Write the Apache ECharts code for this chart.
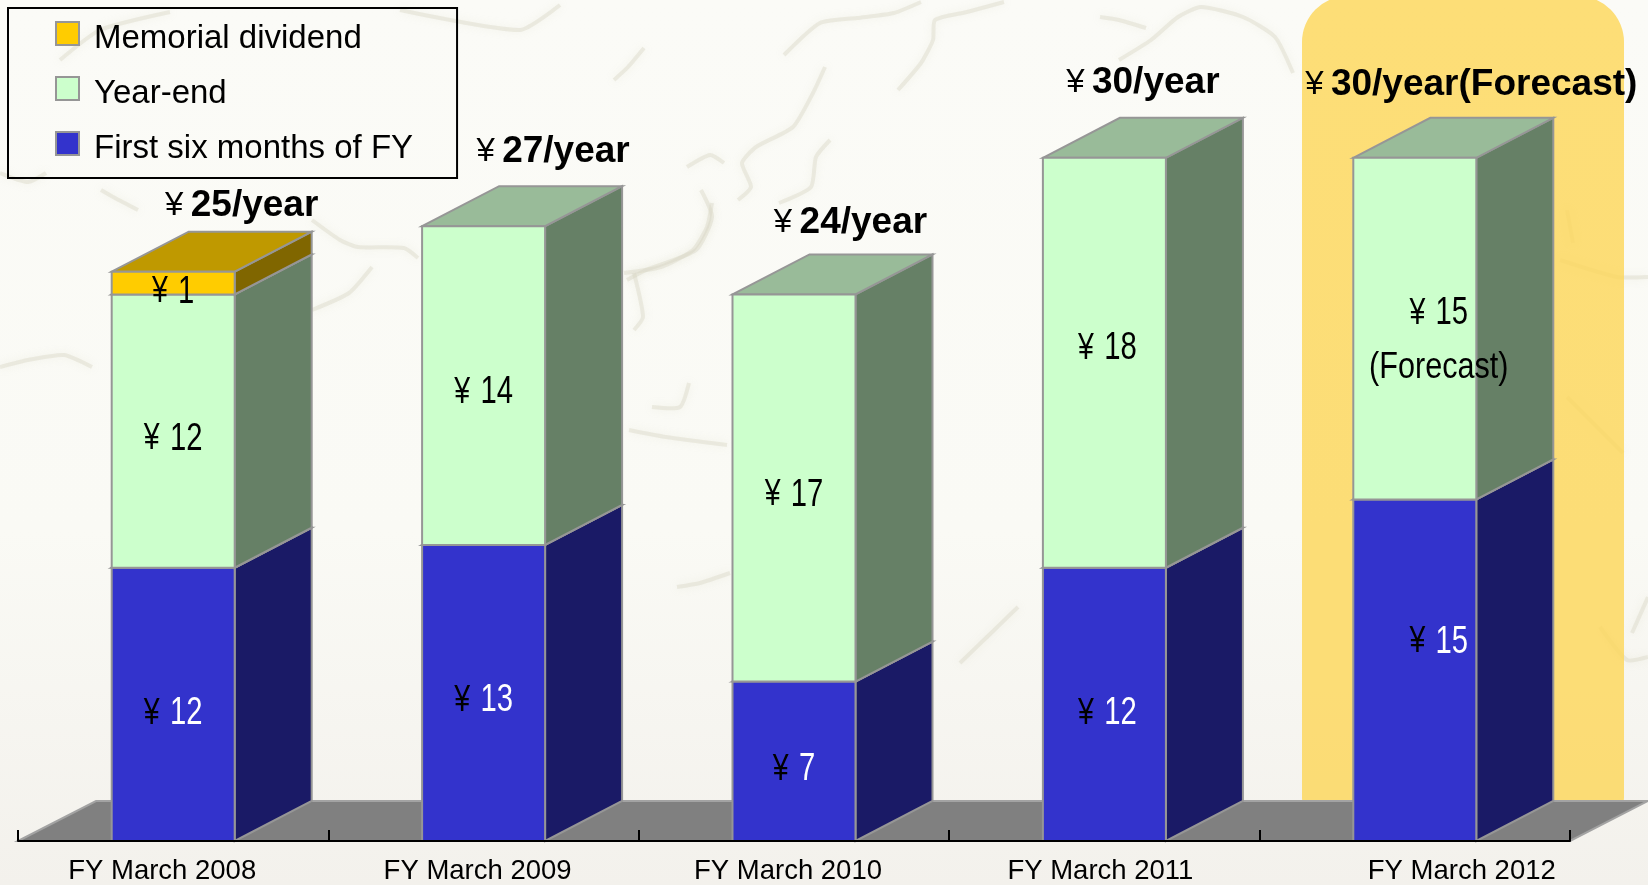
<!DOCTYPE html>
<html>
<head>
<meta charset="utf-8">
<style>
  html, body { margin: 0; padding: 0; background: #f8f7f2; }
  #chart { width: 1648px; height: 885px; }
</style>
<script src="https://cdn.jsdelivr.net/npm/echarts@6/dist/echarts.min.js"></script>
</head>
<body>
<div id="chart"></div>
<script>
const categories = ['FY March 2008', 'FY March 2009', 'FY March 2010', 'FY March 2011', 'FY March 2012'];
const firstSix = [12, 13, 7, 12, 15];
const yearEnd = [12, 14, 17, 18, 15];
const memorial = [1, 0, 0, 0, 0];
const totalLabels = ['25/year', '27/year', '24/year', '30/year', '30/year(Forecast)'];
const yearEndNotes = ['', '', '', '', '(Forecast)'];

// layout
const FONT = '"Liberation Sans", Arial, sans-serif';
const BAR_W = 123, DX = 77, DY = 40, FLOOR_DX = 78;
const EDGE = '#969696';
const labelShiftX = [-22, -12, -12, -8, 94];      // padding used to move the axis labels off band centre
const totalShiftX = [30, 31, 18, 0, 18];
const totalShiftY = [-26, -34, -32, -35, -33];
const valueShiftX = [0, 0, 0, 3, 24];
const firstSixShiftY = [9, 8, 8, 9, -28];
const yearEndShiftY = [8, 7, 7, -14, -15];

const COLORS = {
    first: { front: '#3333cc', side: '#1a1a66', top: '#2828a0' },
    year: { front: '#ccffcc', side: '#668066', top: '#99bb99' },
    memo: { front: '#ffcc00', side: '#806600', top: '#bf9900' }
};

// faint map strokes behind the chart
const mapStrokes = [
    [[784, 55], [820, 23], [857, 18], [894, 13], [921, 2]],
    [[898, 90], [921, 63], [933, 40], [935, 20], [967, 12], [1004, 2]],
    [[825, 67], [813, 93], [793, 127], [756, 147], [742, 163], [751, 187], [738, 200]],
    [[830, 140], [816, 157], [811, 187], [779, 203]],
    [[687, 167], [710, 155], [724, 163]],
    [[701, 190], [712, 217], [696, 250], [646, 270], [627, 280]],
    [[614, 80], [628, 67], [644, 48]],
    [[1119, 60], [1151, 40], [1178, 17], [1201, 7], [1243, 17], [1275, 37], [1293, 73]],
    [[1100, 17], [1119, 20], [1146, 28]],
    [[0, 367], [28, 360], [64, 355], [92, 367]],
    [[312, 220], [340, 240], [358, 247], [404, 248], [418, 258]],
    [[312, 310], [349, 293], [372, 267]],
    [[624, 273], [661, 267], [693, 250], [707, 227], [712, 203]],
    [[634, 273], [643, 317], [634, 330]],
    [[629, 430], [666, 437], [727, 445]],
    [[652, 407], [680, 407], [689, 383]],
    [[0, 173], [28, 182], [46, 173]],
    [[101, 190], [115, 198], [138, 210]],
    [[677, 587], [700, 583], [730, 573]],
    [[960, 663], [987, 637], [1018, 607]],
    [[1560, 260], [1617, 277], [1648, 277]],
    [[1567, 397], [1623, 453]],
    [[1567, 210], [1573, 243]],
    [[1600, 627], [1627, 660], [1648, 657]],
    [[1632, 633], [1648, 597]],
    [[60, 60], [100, 30], [170, 12]],
    [[400, 10], [520, 30], [560, 5]]
];

function stackBase(i, arrays) {
    let s = 0;
    arrays.forEach(function (a) { s += a[i]; });
    return s;
}

function blockItem(values, below, col, labelFn) {
    return function (params, api) {
        const i = api.value(0);
        const v = values[i];
        if (!v) return null;
        const base = stackBase(i, below);
        const bottom = api.coord([i, base]);
        const top = api.coord([i, base + v]);
        const x0 = bottom[0] - BAR_W / 2;
        const x1 = bottom[0] + BAR_W / 2;
        const edge = { stroke: EDGE, lineWidth: 2 };
        const children = [
            {
                type: 'polygon',
                shape: { points: [[x1, bottom[1]], [x1 + DX, bottom[1] - DY], [x1 + DX, top[1] - DY], [x1, top[1]]] },
                style: Object.assign({ fill: col.side }, edge)
            },
            {
                type: 'polygon',
                shape: { points: [[x0, top[1]], [x0 + DX, top[1] - DY], [x1 + DX, top[1] - DY], [x1, top[1]]] },
                style: Object.assign({ fill: col.top }, edge)
            },
            {
                type: 'rect',
                shape: { x: x0, y: top[1], width: BAR_W, height: bottom[1] - top[1] },
                style: Object.assign({ fill: col.front }, edge)
            }
        ];
        labelFn(i, v, bottom[0], (bottom[1] + top[1]) / 2).forEach(function (t) { children.push(t); });
        return { type: 'group', children: children };
    };
}

// the picture uses a condensed face, so squeeze the text sideways
function valueText(v, x, y, digitColor) {
    return {
        type: 'text',
        z2: 10,
        x: x,
        y: y,
        scaleX: 0.77,
        style: {
            text: '{y|¥} {d|' + v + '}',
            x: 0,
            y: 0,
            align: 'center',
            verticalAlign: 'middle',
            rich: {
                y: { fontFamily: FONT, fontSize: 37, fill: '#000', padding: [0, 10, 0, 0] },
                d: { fontFamily: FONT, fontSize: 38, fill: digitColor }
            }
        }
    };
}

function noteText(text, x, y) {
    return {
        type: 'text',
        z2: 10,
        x: x,
        y: y,
        scaleX: 0.85,
        style: { text: text, x: 0, y: 0, align: 'center', verticalAlign: 'middle', fill: '#000', font: '36px ' + FONT }
    };
}

const labelRich = {};
labelShiftX.forEach(function (s, i) {
    labelRich['c' + i] = {
        fontFamily: FONT, fontSize: 27.5, color: '#000',
        padding: s < 0 ? [0, -s, 0, 0] : [0, 0, 0, s]
    };
});

const chart = echarts.init(document.getElementById('chart'));
chart.setOption({
    animation: false,
    backgroundColor: {
        type: 'linear', x: 0, y: 0, x2: 0, y2: 1,
        colorStops: [{ offset: 0, color: '#fbfbf7' }, { offset: 0.6, color: '#fafaf5' }, { offset: 1, color: '#f3f1ec' }]
    },
    grid: { left: 18, right: 78, top: 44, bottom: 44 },
    xAxis: {
        type: 'category',
        z: 10,
        data: categories,
        axisLine: { lineStyle: { color: '#000', width: 2 } },
        axisTick: { show: true, interval: 0, inside: true, length: 11, lineStyle: { color: '#000', width: 2 } },
        axisLabel: {
            margin: 16,
            interval: 0,
            formatter: function (value) {
                return '{c' + categories.indexOf(value) + '|' + value + '}';
            },
            rich: labelRich
        }
    },
    yAxis: { type: 'value', min: 0, max: 35, show: false },
    legend: {
        left: 8,
        top: 8,
        orient: 'vertical',
        selectedMode: false,
        data: ['Memorial dividend', 'Year-end', 'First six months of FY'],
        backgroundColor: 'transparent',
        borderColor: '#000',
        borderWidth: 2,
        padding: [13, 44, 13, 47],
        itemWidth: 23,
        itemHeight: 23,
        itemGap: 21,
        icon: 'rect',
        formatter: '{t|{name}}',
        textStyle: {
            fontFamily: FONT,
            fontSize: 33,
            color: '#000',
            rich: { t: { fontFamily: FONT, fontSize: 33, color: '#000', padding: [10, 0, 0, 10] } }
        }
    },
    graphic: mapStrokes.map(function (pts) {
        return {
            type: 'polyline',
            z: 0,
            shape: { points: pts, smooth: 0.2 },
            style: { stroke: 'rgba(215, 213, 195, 0.4)', lineWidth: 4, fill: null, shadowBlur: 8, shadowColor: 'rgba(200, 198, 172, 0.45)' }
        };
    }).concat([
        {
            type: 'rect',
            z: 0,
            shape: { x: 1302, y: -4, width: 322, height: 820, r: [46, 46, 18, 18] },
            style: { fill: 'rgba(252, 215, 90, 0.82)' }
        }
    ]),
    series: [
        {
            // grey floor under the bars
            type: 'custom',
            name: 'floor',
            coordinateSystem: 'cartesian2d',
            z: 1,
            silent: true,
            data: [[0, 0]],
            renderItem: function (params) {
                const c = params.coordSys;
                const b = c.y + c.height;
                return {
                    type: 'polygon',
                    shape: { points: [[c.x, b], [c.x + FLOOR_DX, b - DY], [c.x + c.width + FLOOR_DX, b - DY], [c.x + c.width, b]] },
                    style: { fill: '#808080', stroke: '#a3a3a3', lineWidth: 2 }
                };
            }
        },
        {
            type: 'custom',
            name: 'First six months of FY',
            z: 3,
            itemStyle: { color: COLORS.first.front, borderColor: EDGE, borderWidth: 2 },
            data: categories.map(function (c, i) { return [i, firstSix[i]]; }),
            renderItem: blockItem(firstSix, [], COLORS.first, function (i, v, x, y) {
                return [valueText(v, x + valueShiftX[i], y + firstSixShiftY[i], '#fff')];
            })
        },
        {
            type: 'custom',
            name: 'Year-end',
            z: 4,
            itemStyle: { color: COLORS.year.front, borderColor: EDGE, borderWidth: 2 },
            data: categories.map(function (c, i) { return [i, yearEnd[i]]; }),
            renderItem: blockItem(yearEnd, [firstSix], COLORS.year, function (i, v, x, y) {
                const out = [valueText(v, x + valueShiftX[i], y + yearEndShiftY[i], '#000')];
                if (yearEndNotes[i]) out.push(noteText(yearEndNotes[i], x + valueShiftX[i], y + yearEndShiftY[i] + 54));
                return out;
            })
        },
        {
            type: 'custom',
            name: 'Memorial dividend',
            z: 5,
            itemStyle: { color: COLORS.memo.front, borderColor: EDGE, borderWidth: 2 },
            data: categories.map(function (c, i) { return [i, memorial[i]]; }),
            renderItem: blockItem(memorial, [firstSix, yearEnd], COLORS.memo, function (i, v, x, y) {
                return [valueText(v, x, y + 9, '#000')];
            })
        },
        {
            // totals above each bar
            type: 'custom',
            name: 'totals',
            z: 6,
            silent: true,
            data: categories.map(function (c, i) { return [i, firstSix[i] + yearEnd[i] + memorial[i]]; }),
            renderItem: function (params, api) {
                const i = api.value(0);
                const p = api.coord([i, api.value(1)]);
                return {
                    type: 'text',
                    style: {
                        text: '{y|¥} {b|' + totalLabels[i] + '}',
                        x: p[0] + DX / 2 + totalShiftX[i],
                        y: p[1] - DY + totalShiftY[i],
                        align: 'center',
                        verticalAlign: 'middle',
                        rich: {
                            y: { fontFamily: FONT, fontSize: 33, fill: '#000', padding: [0, 4, 0, 0] },
                            b: { fontFamily: FONT, fontWeight: 'bold', fontSize: 37, fill: '#000' }
                        }
                    }
                };
            }
        }
    ]
});

window.addEventListener('resize', function () {
    chart.resize();
});
</script>
</body>
</html>
